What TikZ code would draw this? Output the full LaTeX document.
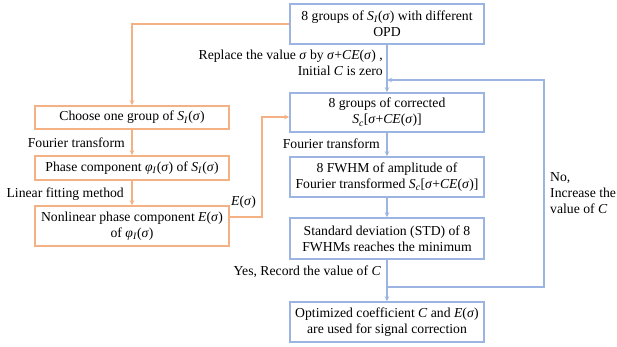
\documentclass[tikz,border=0pt]{standalone}
\usepackage{fontspec}
\setmainfont{Liberation Serif}
\usetikzlibrary{arrows.meta,calc}
\definecolor{bl}{RGB}{155,180,225}
\definecolor{orl}{RGB}{244,177,131}
\newcommand\mi[1]{\textit{#1}}
\newcommand\SI{\mi{S}\textsubscript{\mi{I}}}
\newcommand\Sc{\mi{S}\textsubscript{\mi{c}}}
\newcommand\sg{\mi{σ}}
\newcommand\ph{\mi{φ}}
\begin{document}
\begin{tikzpicture}[x=1pt,y=-1pt,
  every node/.style={font=\fontsize{13.7}{16}\selectfont, inner sep=0pt},
  bbox/.style={draw=bl, line width=1.6pt, minimum width=194pt, minimum height=40pt, align=center},
  obox/.style={draw=orl, line width=1.6pt, minimum width=194pt, minimum height=40pt, align=center},
  bline/.style={draw=bl, line width=1.3pt},
  oline/.style={draw=orl, line width=1.3pt},
  arr/.style={-{Stealth[length=5pt,width=4.5pt]}},
  lbl/.style={align=right, anchor=east}]
\useasboundingbox (0,0) rectangle (617,347);

% right column
\node[bbox] (b1) at (387,24) {8 groups of \SI(\sg) with different\\OPD};
\node[bbox, minimum height=39pt] (b2) at (387,112.5) {8 groups of corrected\\\Sc[\sg+\mi{CE}(\sg)]};
\node[bbox] (b3) at (387,177) {8 FWHM of amplitude of\\Fourier transformed \Sc[\sg+\mi{CE}(\sg)]};
\node[bbox, minimum height=41pt] (b4) at (387,238.5) {Standard deviation (STD) of 8\\FWHMs reaches the minimum};
\node[bbox] (b5) at (387,322) {Optimized coefficient \mi{C} and \mi{E}(\sg)\\are used for signal correction};

% left column
\node[obox, minimum height=23pt] (a1) at (132,117.5) {Choose one group of \SI(\sg)};
\node[obox, minimum height=24pt] (a2) at (132,168) {Phase component \ph\textsubscript{\mi{I}}(\sg) of \SI(\sg)};
\node[obox] (a3) at (132,226) {Nonlinear phase component \mi{E}(\sg)\\of \ph\textsubscript{\mi{I}}(\sg)};

% labels
\node[lbl] (l1) at (383,63) {Replace the value \sg\ by \sg+\mi{CE}(\sg) ,\\Initial \mi{C} is zero};
\node[lbl] (l2) at (380,144) {Fourier transform};
\node[lbl] (l3) at (381,272) {Yes, Record the value of \mi{C}};
\node[align=left, anchor=west] (l4) at (550,193) {No,\\Increase the\\value of \mi{C}};
\node[lbl] (l5) at (125,143) {Fourier transform};
\node[lbl] (l6) at (124,194) {Linear fitting method};
\node[anchor=west] (l7) at (231,202) {\mi{E}(\sg)};

% coordinates
\coordinate (yes) at (387,287);
\coordinate (rt) at (544,287);
\coordinate (rtop) at (544,80);
\coordinate (jn) at (387,80);
\coordinate (ex) at (262,217);

% right connectors
\draw[bline,arr] (b1) -- (b2);
\draw[bline,arr] (b2) -- (b3);
\draw[bline,arr] (b3) -- (b4);
\draw[bline,arr] (b4) -- (b5);
\draw[bline,arr] (yes) -- (rt) -- (rtop) -- (jn);

% left connectors
\draw[oline,arr] (b1.west) -| (a1.north);
\draw[oline,arr] (a1) -- (a2);
\draw[oline,arr] (a2) -- (a3);
\draw[oline,arr] ([yshift=9pt]a3.east) -- (ex) |- ([yshift=-4.5pt]b2.west);
\end{tikzpicture}
\end{document}
